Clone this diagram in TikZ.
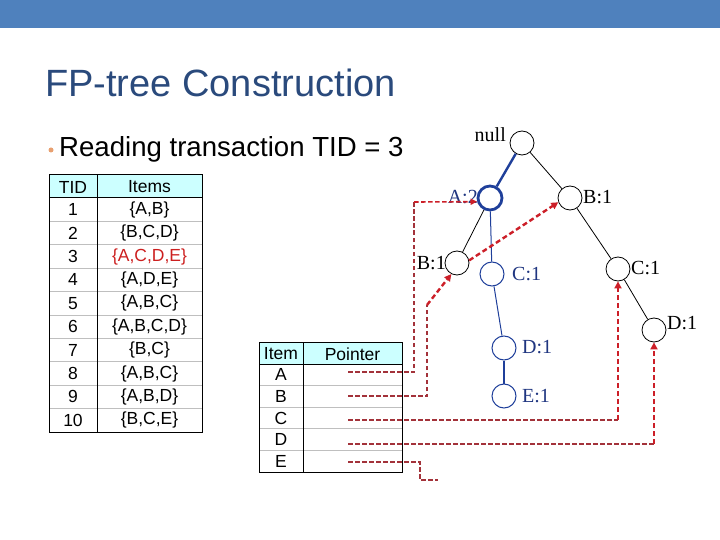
\documentclass[tikz,border=0pt]{standalone}
\usepackage{fontspec}
\setmainfont{Liberation Serif}
\newfontfamily\arialf{Liberation Sans}
\usetikzlibrary{arrows.meta}
\definecolor{barblue}{HTML}{4F81BD}
\definecolor{titleblue}{HTML}{2A4A7C}
\definecolor{treeblue}{HTML}{1F3F9A}
\definecolor{labblue}{HTML}{1F3580}
\definecolor{ptrdark}{HTML}{A3323A}
\definecolor{ptrred}{HTML}{CC1F28}
\definecolor{headcyan}{HTML}{CCFFFF}
\definecolor{redtext}{HTML}{CC1F1F}
\definecolor{bulletor}{HTML}{E8A070}
\begin{document}
\begin{tikzpicture}[x=1pt,y=-1pt,
  tnode/.style={draw,circle,minimum size=24pt,inner sep=0pt,line width=0.8pt},
  bnode/.style={tnode,draw=treeblue,line width=1pt},
  tlab/.style={font=\fontsize{20}{24}\selectfont,inner sep=0pt},
  cell/.style={font=\arialf\fontsize{17.5}{20}\selectfont,inner sep=0pt},
  rowline/.style={draw=gray!50,line width=0.8pt},
  tabline/.style={line width=1pt},
  thinptr/.style={draw=ptrdark,line width=1.3pt,dash pattern=on 4.5pt off 2.5pt},
  thickptr/.style={draw=ptrred,line width=2.4pt,dash pattern=on 5pt off 3pt,-{Triangle[length=7pt,width=7pt]}},
  eptr/.style={draw=ptrdark,line width=2.2pt,dash pattern=on 4.5pt off 2.5pt},
]
\useasboundingbox (0,0) rectangle (720,540);
\fill[barblue] (0,0) rectangle (720,28);
\node[anchor=base west,font=\arialf\fontsize{38}{44}\selectfont,text=titleblue,inner sep=0pt] (title) at (45,97) {FP-tree Construction};
\node[circle,fill=bulletor,minimum size=5pt,inner sep=0pt] (bulletdot) at (51,150) {};
\node[anchor=base west,font=\arialf\fontsize{27.6}{32}\selectfont,inner sep=0pt] (bullet) at (59,157) {Reading transaction TID = 3};

% transaction table
\fill[headcyan] (49,175) rectangle (202,198);
\foreach \i in {1,...,9} \draw[rowline] (49,{198+23.4*\i}) -- (202,{198+23.4*\i});
\draw[tabline] (49,175) rectangle (202,432);
\draw[tabline] (97,175) -- (97,432);
\draw[tabline] (49,198) -- (202,198);
\node[cell] (tidh) at (73,187) {TID};
\node[cell] (itemsh) at (149.5,187) {Items};
\foreach \t/\s [count=\i] in {1/{\{A,B\}},2/{\{B,C,D\}},3/{},4/{\{A,D,E\}},5/{\{A,B,C\}},6/{\{A,B,C,D\}},7/{\{B,C\}},8/{\{A,B,C\}},9/{\{A,B,D\}},10/{\{B,C,E\}}}{
  \node[cell] (tid\i) at (73,{198+23.4*(\i-0.5)}) {\t};
  \node[cell] (items\i) at (149.5,{198+23.4*(\i-0.5)}) {\s};
}
\node[cell,text=redtext] (items3red) at (149.5,{198+23.4*2.5}) {\{A,C,D,E\}};

% header table
\fill[headcyan] (259,342) rectangle (402,364);
\foreach \y in {385.6,407.2,428.8,450.4} \draw[rowline] (259,\y) -- (402,\y);
\draw[tabline] (259,342) rectangle (402,472);
\draw[tabline] (303,342) -- (303,472);
\draw[tabline] (259,364) -- (402,364);
\node[cell] (itemh) at (281,354) {Item};
\node[cell] (ptrh) at (352.5,354) {Pointer};
\foreach \n/\y in {A/374.8,B/396.4,C/418,D/439.6,E/461.2}
  \node[cell] (it\n) at (281,\y) {\n};

% tree nodes
\node[tnode] (null) at (522,143) {};
\node[tnode,draw=treeblue,line width=2.8pt] (A2) at (490,198) {};
\node[tnode] (B1r) at (570,198) {};
\node[tnode] (B1l) at (457,263) {};
\node[bnode] (C1m) at (492,274) {};
\node[tnode] (C1r) at (618,269) {};
\node[tnode] (D1r) at (654,330) {};
\node[bnode] (D1m) at (504,348) {};
\node[bnode] (E1) at (504,396) {};

\node[tlab,anchor=base east] (lnull) at (506,142) {null};
\node[tlab,anchor=base east,text=labblue] (lA2) at (478,204) {A:2};
\node[tlab,anchor=base west] (lB1r) at (583,204) {B:1};
\node[tlab,anchor=base east] (lB1l) at (446,269) {B:1};
\node[tlab,anchor=base west,text=labblue] (lC1m) at (512,280) {C:1};
\node[tlab,anchor=base west] (lC1r) at (631,274) {C:1};
\node[tlab,anchor=base west] (lD1r) at (667,329) {D:1};
\node[tlab,anchor=base west,text=labblue] (lD1m) at (522,353) {D:1};
\node[tlab,anchor=base west,text=labblue] (lE1) at (522,402) {E:1};

% tree edges
\draw[treeblue,line width=2.4pt] (null) -- (A2);
\draw[line width=0.8pt] (null) -- (B1r);
\draw[line width=0.8pt] (A2) -- (B1l);
\draw[treeblue,line width=1pt] (A2) -- (C1m);
\draw[treeblue,line width=1pt] (C1m) -- (D1m);
\draw[treeblue,line width=2.4pt] (D1m) -- (E1);
\draw[line width=0.8pt] (B1r) -- (C1r);
\draw[line width=0.8pt] (C1r) -- (D1r);

% pointers
\coordinate (pA) at (348,372);
\coordinate (pB) at (348,396);
\coordinate (pC) at (348,420);
\coordinate (pD) at (348,444);
\coordinate (pE) at (348,462);
\coordinate (cA) at (414,202);
\coordinate (cB) at (427,305);
\coordinate (cC) at (618,420);
\coordinate (cD) at (654,444);
\coordinate (eEnd) at (438,480);

\draw[thinptr] (pA) -| (cA);
\draw[thinptr,line width=1.6pt,-{Triangle[length=6.5pt,width=6pt]},ptrred] (cA) -- (A2.196);
\draw[thinptr] (pB) -| (cB);
\draw[thickptr] (cB) -- (B1l.243);
\draw[thickptr] (B1l.12) -- (B1r.200);
\draw[thinptr] (pC) -- (cC);
\draw[thickptr] (cC) -- (C1r.south);
\draw[thinptr] (pD) -- (cD);
\draw[thickptr] (cD) -- (D1r.south);
\draw[eptr] (pE) -- (420,462) -- (420,480) -- (eEnd);
\end{tikzpicture}
\end{document}
